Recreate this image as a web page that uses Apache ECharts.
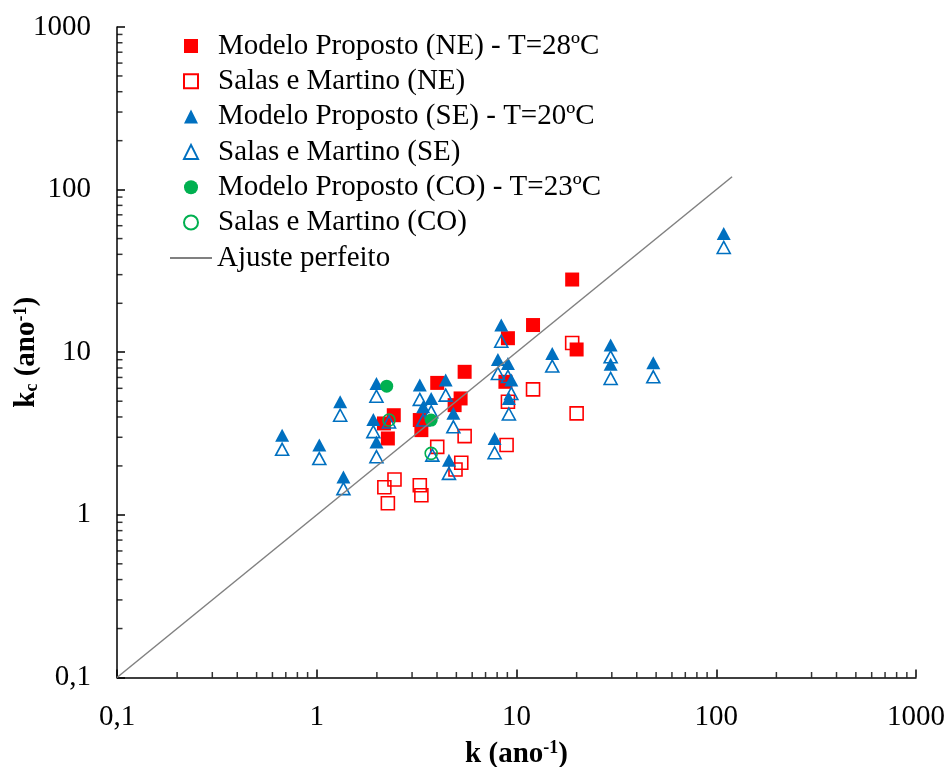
<!DOCTYPE html>
<html>
<head>
<meta charset="utf-8">
<script src="https://cdn.jsdelivr.net/npm/echarts@6/dist/echarts.min.js"></script>
<style>
  html, body { margin: 0; padding: 0; background: #fff; }
  #chart { width: 947px; height: 767px; }
</style>
</head>
<body>
<div id="chart"></div>
<script>
// NE - Modelo Proposto
var neModK  = [2.17, 2.27, 2.43, 3.28, 3.34, 4.01, 4.90, 5.25, 5.50, 8.8, 9.06, 12.1, 19.0, 20.0]
var neModKc = [3.65, 2.95, 4.10, 3.83, 3.32, 6.48, 4.73, 5.20, 7.58, 6.58, 12.2, 14.7, 28.0, 10.4]
// NE - Salas e Martino
var neSalK  = [2.18, 2.27, 2.45, 3.28, 3.34, 4.01, 4.95, 5.29, 5.50, 8.92, 9.06, 12.1, 19.0, 20.0]
var neSalKc = [1.48, 1.18, 1.65, 1.52, 1.32, 2.62, 1.90, 2.09, 3.05, 2.69, 4.96, 5.91, 11.4, 4.21]
// SE - Modelo Proposto
var seModK  = [0.671, 1.03, 1.31, 1.36, 1.99, 1.92, 1.99, 3.28, 4.42, 3.74, 3.41, 4.83, 4.59, 8.39, 8.07, 9.06, 9.42, 9.16, 7.77, 15.1, 29.6, 29.6, 48.4, 109]
var seModKc = [3.09, 2.69, 4.96, 1.71, 6.43, 3.86, 2.81, 6.28, 6.74, 5.20, 4.62, 4.21, 2.17, 14.7, 9.03, 8.54, 6.74, 5.20, 2.95, 9.83, 11.1, 8.45, 8.61, 53.7]
// SE - Salas e Martino
var seSalK  = [0.671, 1.03, 1.31, 1.36, 1.99, 1.92, 1.99, 2.30, 3.28, 4.42, 3.74, 3.41, 4.83, 3.79, 4.59, 8.39, 8.07, 9.06, 9.42, 9.16, 7.77, 15.1, 29.6, 29.6, 48.4, 109]
var seSalKc = [2.53, 2.22, 4.10, 1.45, 5.37, 3.25, 2.28, 3.73, 5.13, 5.45, 4.31, 3.83, 3.48, 2.33, 1.80, 11.7, 7.41, 7.10, 5.58, 4.17, 2.41, 8.22, 9.37, 6.90, 7.06, 44.1]
// CO
var coModK  = [2.24, 3.74]
var coModKc = [6.19, 3.83]
var coSalK  = [2.30, 3.74]
var coSalKc = [3.83, 2.39]
// linha 1:1
var ajusteK = [0.1, 120]

var decades = [0.1, 1, 10, 100]
var minorMult = [2, 3, 4, 5, 6, 7, 8, 9]

function pares(xs, ys) {
  return xs.map(function (x, i) { return [x, ys[i]] })
}

var minorX = [], minorY = []
decades.forEach(function (d) {
  minorMult.forEach(function (m) {
    var v = +(d * m).toPrecision(3)
    minorX.push([v, 0.1])
    minorY.push([0.1, v])
  })
})

var FONT = 'Liberation Serif'
var RED = '#FF0000', BLUE = '#0070C0', GREEN = '#00B050'

function fmt(v) { return String(v).replace('.', ',') }

var chart = echarts.init(document.getElementById('chart'))
chart.setOption({
  animation: false,
  textStyle: { fontFamily: FONT },
  grid: { left: 117, right: 31, top: 27, bottom: 89.5, containLabel: false, outerBoundsMode: 'none' },
  legend: [{
    orient: 'vertical',
    left: 183,
    top: 28.5,
    padding: 0,
    itemWidth: 14,
    itemHeight: 14,
    itemGap: 0.3,
    textStyle: { fontFamily: FONT, fontSize: 29, color: '#000', lineHeight: 35, padding: [0, 0, 0, 15] },
    data: ['Modelo Proposto (NE) - T=28ºC', 'Salas e Martino (NE)', 'Modelo Proposto (SE) - T=20ºC',
      'Salas e Martino (SE)', 'Modelo Proposto (CO) - T=23ºC', 'Salas e Martino (CO)']
  }, {
    orient: 'vertical',
    left: 169,
    top: 240.5,
    padding: 0,
    itemWidth: 42,
    itemHeight: 14,
    textStyle: { fontFamily: FONT, fontSize: 29, color: '#000', lineHeight: 35 },
    data: [{ name: 'Ajuste perfeito', itemStyle: { opacity: 0 } }]
  }],
  xAxis: {
    type: 'log', min: 0.1, max: 1000, logBase: 10,
    name: '{b|k (ano}{sup|-1}{b|)}',
    nameLocation: 'middle', nameGap: 62, nameMoveOverlap: false,
    nameTextStyle: {
      rich: {
        b: { fontFamily: FONT, fontSize: 29, fontWeight: 'bold', color: '#000' },
        sup: { fontFamily: FONT, fontSize: 18, fontWeight: 'bold', color: '#000', padding: [0, 0, 12, 0] }
      }
    },
    axisLine: { lineStyle: { color: '#000', width: 1.5 } },
    axisTick: { inside: true, length: 8, lineStyle: { color: '#000', width: 1.5 } },
    axisLabel: { fontFamily: FONT, fontSize: 29, color: '#000', margin: 25, formatter: fmt },
    splitLine: { show: false }
  },
  yAxis: {
    type: 'log', min: 0.1, max: 1000, logBase: 10,
    name: '{b|k}{sub|c}{b| (ano}{sup|-1}{b|)}',
    nameLocation: 'middle', nameGap: 75, nameRotate: 90, nameMoveOverlap: false,
    nameTextStyle: {
      rich: {
        b: { fontFamily: FONT, fontSize: 29, fontWeight: 'bold', color: '#000' },
        sub: { fontFamily: FONT, fontSize: 18, fontWeight: 'bold', color: '#000', padding: [10, 0, 0, 0] },
        sup: { fontFamily: FONT, fontSize: 18, fontWeight: 'bold', color: '#000', padding: [0, 0, 12, 0] }
      }
    },
    axisLine: { lineStyle: { color: '#000', width: 1.5 } },
    axisTick: { inside: true, length: 8, lineStyle: { color: '#000', width: 1.5 } },
    axisLabel: { fontFamily: FONT, fontSize: 29, color: '#000', margin: 26, formatter: fmt },
    splitLine: { show: false }
  },
  series: [
    {
      name: 'Ajuste perfeito', type: 'line', symbol: 'none', silent: true,
      data: pares(ajusteK, ajusteK),
      lineStyle: { color: '#808080', width: 1.5 }, itemStyle: { color: '#808080' }
    },
    {
      name: 'Modelo Proposto (NE) - T=28ºC', type: 'scatter', symbol: 'rect', symbolSize: 14,
      data: pares(neModK, neModKc), itemStyle: { color: RED, opacity: 1 }
    },
    {
      name: 'Salas e Martino (NE)', type: 'scatter', symbol: 'rect', symbolSize: 13,
      data: pares(neSalK, neSalKc),
      itemStyle: { color: 'rgba(255,255,255,0)', borderColor: RED, borderWidth: 1.6, opacity: 1 }
    },
    {
      name: 'Modelo Proposto (SE) - T=20ºC', type: 'scatter', symbol: 'triangle', symbolSize: [14, 13],
      data: pares(seModK, seModKc), itemStyle: { color: BLUE, opacity: 1 }
    },
    {
      name: 'Salas e Martino (SE)', type: 'scatter', symbol: 'triangle', symbolSize: [13, 12],
      data: pares(seSalK, seSalKc),
      itemStyle: { color: 'rgba(255,255,255,0)', borderColor: BLUE, borderWidth: 1.6, opacity: 1 }
    },
    {
      name: 'Modelo Proposto (CO) - T=23ºC', type: 'scatter', symbol: 'circle', symbolSize: 13,
      data: pares(coModK, coModKc), itemStyle: { color: GREEN, opacity: 1 }
    },
    {
      name: 'Salas e Martino (CO)', type: 'scatter', symbol: 'circle', symbolSize: 12,
      data: pares(coSalK, coSalKc),
      itemStyle: { color: 'rgba(255,255,255,0)', borderColor: GREEN, borderWidth: 1.6, opacity: 1 }
    },
    // marcas secundarias dos eixos
    {
      type: 'scatter', silent: true, clip: false, symbol: 'rect',
      symbolSize: [1.5, 5.5], symbolOffset: [0, -2.75],
      data: minorX, itemStyle: { color: '#000' }
    },
    {
      type: 'scatter', silent: true, clip: false, symbol: 'rect',
      symbolSize: [5.5, 1.5], symbolOffset: [2.75, 0],
      data: minorY, itemStyle: { color: '#000' }
    }
  ]
})
</script>
</body>
</html>
